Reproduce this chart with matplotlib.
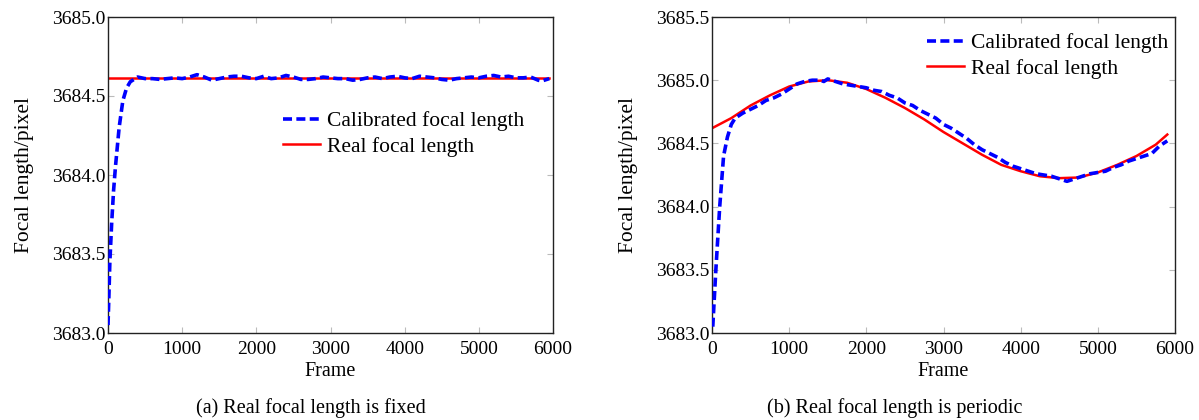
import numpy as np
import matplotlib
matplotlib.use('Agg')
import matplotlib.pyplot as plt

plt.rcParams['font.family'] = ['Liberation Serif', 'DejaVu Serif']
plt.rcParams['font.size'] = 14

#- (a) focal length fixed
frames_a = [0, 10, 25, 50, 75, 100, 150, 200, 250, 300, 350, 400, 500, 600, 700, 800,
            900, 1000, 1100, 1200, 1300, 1400, 1500, 1600, 1700, 1800, 1900, 2000,
            2100, 2200, 2300, 2400, 2500, 2600, 2700, 2800, 2900, 3000, 3100, 3200,
            3300, 3400, 3500, 3600, 3700, 3800, 3900, 4000, 4100, 4200, 4300, 4400,
            4500, 4600, 4700, 4800, 4900, 5000, 5100, 5200, 5300, 5400, 5500, 5600,
            5700, 5800, 5850, 5950]
calib_a = [3683.05, 3683.2, 3683.45, 3683.7, 3683.9, 3684.05, 3684.3, 3684.47, 3684.55,
           3684.59, 3684.605, 3684.62, 3684.61, 3684.61, 3684.605, 3684.61,
           3684.615, 3684.61, 3684.62, 3684.635, 3684.62, 3684.60, 3684.61, 3684.62,
           3684.625, 3684.625, 3684.615, 3684.61, 3684.625, 3684.61, 3684.615, 3684.63,
           3684.62, 3684.605, 3684.605, 3684.61, 3684.62, 3684.615, 3684.61, 3684.61,
           3684.60, 3684.605, 3684.615, 3684.62, 3684.61, 3684.62, 3684.625, 3684.615,
           3684.61, 3684.625, 3684.62, 3684.615, 3684.605, 3684.60, 3684.61, 3684.615,
           3684.62, 3684.615, 3684.625, 3684.63, 3684.62, 3684.625, 3684.615, 3684.615,
           3684.62, 3684.60, 3684.595, 3684.61]
real_frames_a = [0, 5950]
real_a = [3684.615, 3684.615]

#- (b) focal length periodic
frames_b_real = [0, 250, 500, 750, 1000, 1250, 1500, 1750, 2000, 2250, 2500, 2750,
                 3000, 3250, 3500, 3750, 4000, 4250, 4500, 4750, 5000, 5250, 5500,
                 5750, 5900]
real_b = [3684.62, 3684.70, 3684.80, 3684.88, 3684.95, 3684.99, 3685.00, 3684.98,
          3684.93, 3684.86, 3684.78, 3684.69, 3684.59, 3684.50, 3684.41, 3684.33,
          3684.28, 3684.24, 3684.225, 3684.23, 3684.27, 3684.33, 3684.40, 3684.49,
          3684.57]
frames_b = [10, 50, 100, 150, 200, 250, 300, 400, 500, 600, 700, 800, 900, 1000,
            1100, 1200, 1300, 1400, 1450, 1500, 1600, 1700, 1800, 1900, 2000, 2100,
            2200, 2300, 2400, 2500, 2600, 2700, 2800, 2900, 3000, 3100, 3200, 3300,
            3400, 3500, 3600, 3700, 3800, 3900, 4000, 4100, 4200, 4300, 4400, 4500,
            4600, 4700, 4800, 4900, 5000, 5100, 5200, 5300, 5400, 5500, 5600, 5700,
            5800, 5900]
calib_b = [3683.05, 3683.5, 3684.0, 3684.4, 3684.55, 3684.65, 3684.70, 3684.74,
           3684.77, 3684.80, 3684.84, 3684.86, 3684.89, 3684.93, 3684.97, 3684.99,
           3685.0, 3685.0, 3684.99, 3685.01, 3684.99, 3684.97, 3684.96, 3684.95,
           3684.94, 3684.92, 3684.91, 3684.88, 3684.86, 3684.82, 3684.80, 3684.76,
           3684.73, 3684.70, 3684.65, 3684.62, 3684.58, 3684.54, 3684.49, 3684.45,
           3684.42, 3684.39, 3684.35, 3684.32, 3684.30, 3684.28, 3684.26, 3684.25,
           3684.24, 3684.22, 3684.20, 3684.22, 3684.24, 3684.26, 3684.27, 3684.28,
           3684.31, 3684.33, 3684.36, 3684.38, 3684.40, 3684.42, 3684.48, 3684.52]

fig = plt.figure(figsize=(11.99, 4.2), dpi=100)
W, H = 1199., 420.
ax1 = fig.add_axes([108/W, 1-333/H, (553-108)/W, (333-17)/H])
ax2 = fig.add_axes([712/W, 1-333/H, (1175-712)/W, (333-17)/H])

def estilo(ax, ylim, yticks, xlim):
    ax.set_xlim(*xlim)
    ax.set_ylim(*ylim)
    ax.set_xticks([0, 1000, 2000, 3000, 4000, 5000, 6000])
    ax.set_yticks(yticks)
    ax.set_yticklabels(['%.1f' % v for v in yticks])
    ax.tick_params(direction='in', length=4, width=0.8, color='#bbbbbb',
                   top=True, right=True, labelsize=14, pad=2)
    ax.tick_params(axis='x', pad=6)
    for s in ax.spines.values():
        s.set_color('#222222')
        s.set_linewidth(1.0)
    ax.set_xlabel('Frame', fontsize=14.5, labelpad=3)
    ax.set_ylabel('Focal length/pixel', fontsize=15.5, labelpad=13)

ax1.plot(frames_a, calib_a, color='#0000ff', ls=(0, (2.5, 1.2)), lw=2.6,
         label='Calibrated focal length', zorder=3)
ax1.plot(real_frames_a, real_a, color='#ff0000', lw=1.8, label='Real focal length', zorder=2)
estilo(ax1, (3683.0, 3685.0), [3683.0, 3683.5, 3684.0, 3684.5, 3685.0], (0, 6000))
ax1.legend(loc='upper left', bbox_to_anchor=((283-108)/445., 1-(111-17)/316.), frameon=False,
           fontsize=15.5, handlelength=1.7, handletextpad=0.35, labelspacing=0.25,
           borderpad=0, borderaxespad=0)

ax2.plot(frames_b, calib_b, color='#0000ff', ls=(0, (2.5, 1.2)), lw=2.6,
         label='Calibrated focal length', zorder=3)
ax2.plot(frames_b_real, real_b, color='#ff0000', lw=1.8, label='Real focal length', zorder=2)
estilo(ax2, (3683.0, 3685.5), [3683.0, 3683.5, 3684.0, 3684.5, 3685.0, 3685.5], (0, 6000))
ax2.legend(loc='upper left', bbox_to_anchor=((927-712)/463., 1-(33-17)/316.), frameon=False,
           fontsize=15.5, handlelength=1.7, handletextpad=0.35, labelspacing=0.25,
           borderpad=0, borderaxespad=0)

fig.text(311/W, 1-408/H, '(a) Real focal length is fixed', ha='center', va='center', fontsize=14.5)
fig.text(895/W, 1-408/H, '(b) Real focal length is periodic', ha='center', va='center', fontsize=14.5)

plt.savefig('out.png', dpi=100)
plt.close()
